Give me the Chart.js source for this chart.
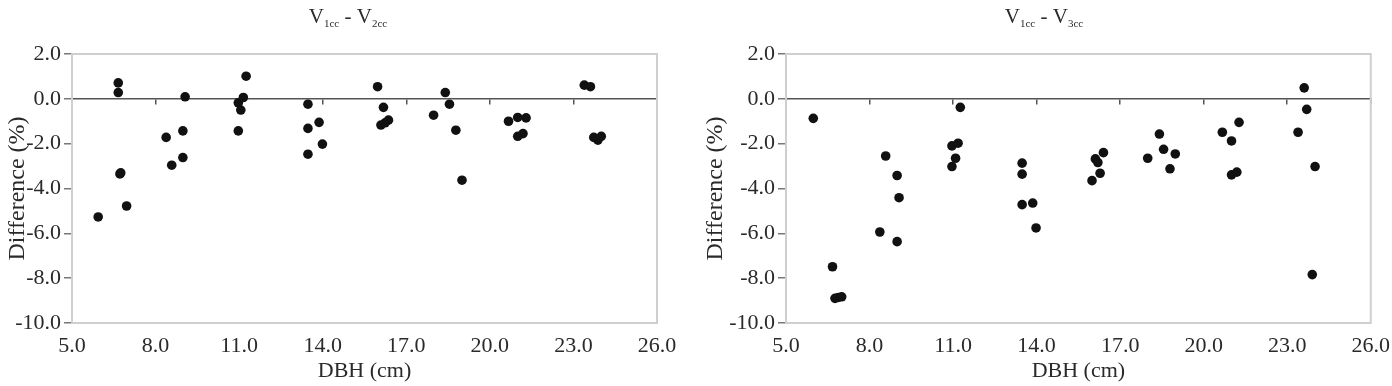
<!DOCTYPE html>
<html>
<head>
<meta charset="utf-8">
<script src="https://cdn.jsdelivr.net/npm/chart.js@4/dist/chart.umd.min.js"></script>
<style>
    body { margin: 0; background: #fff; }
    .wrap { display: flex; width: 1392px; height: 386px; }
    canvas { display: block; }
</style>
</head>
<body>
<div class="wrap">
    <canvas id="leftChart" width="696" height="386"></canvas>
    <canvas id="rightChart" width="696" height="386"></canvas>
</div>
<script>
// Axis ticks
const X_MIN = 5, X_MAX = 26, X_STEP = 3;
const Y_MIN = -10, Y_MAX = 2, Y_STEP = 2;

// V1cc - V2cc
const leftDbh = [5.94, 6.66, 6.66, 6.75, 6.72, 6.96, 8.38, 8.58, 8.98, 8.98, 9.06,
    10.97, 11.06, 10.97, 11.15, 11.25, 13.47, 13.47, 13.47, 13.87, 13.99,
    15.97, 16.18, 16.09, 16.24, 16.36, 17.98, 18.40, 18.55, 18.78, 19.00,
    20.67, 21.00, 21.30, 21.00, 21.19, 23.39, 23.61, 23.73, 23.88, 24.00];
const leftDiff = [-5.27, 0.71, 0.28, -3.30, -3.35, -4.78, -1.72, -2.96, -1.43, -2.62, 0.09,
    -0.18, -0.50, -1.43, 0.06, 1.01, -0.24, -1.32, -2.47, -1.05, -2.02,
    0.54, -0.38, -1.17, -1.07, -0.95, -0.73, 0.28, -0.24, -1.40, -3.63,
    -1.00, -0.83, -0.85, -1.67, -1.55, 0.61, 0.54, -1.72, -1.84, -1.67];

// V1cc - V3cc
const rightDbh = [5.98, 6.67, 6.76, 6.88, 7.00, 8.37, 8.58, 8.99, 9.06, 8.99,
    10.96, 11.18, 11.26, 11.09, 10.96, 13.48, 13.48, 13.48, 13.86, 13.98,
    15.99, 16.11, 16.20, 16.40, 16.28, 17.99, 18.41, 18.56, 18.98, 18.79,
    20.67, 21.00, 21.27, 21.00, 21.19, 23.39, 23.61, 23.70, 24.00, 23.90];
const rightDiff = [-0.87, -7.49, -8.90, -8.86, -8.83, -5.94, -2.55, -3.42, -4.41, -6.37,
    -2.10, -1.98, -0.38, -2.65, -3.02, -2.87, -3.36, -4.72, -4.65, -5.76,
    -3.65, -2.68, -2.84, -2.40, -3.32, -2.65, -1.57, -2.25, -2.46, -3.12,
    -1.49, -1.88, -1.05, -3.39, -3.27, -1.49, 0.49, -0.47, -3.02, -7.84];

const SERIF = '"Liberation Serif", "DejaVu Serif", serif';
const TEXT = '#2a2a2a';

// Title with subscripts: V<sub>1cc</sub> - V<sub>Ncc</sub>
function titlePlugin(sub2) {
    return {
        id: 'subTitle',
        afterDraw(chart) {
            const ctx = chart.ctx;
            const big = '21px ' + SERIF, small = '11px ' + SERIF;
            const parts = [['V', big, 0], ['1cc', small, 4], [' - V', big, 0], [sub2, small, 4]];
            let total = 0;
            parts.forEach(p => { ctx.font = p[1]; total += ctx.measureText(p[0]).width; });
            let x = chart.width / 2 - total / 2;
            ctx.save();
            ctx.fillStyle = TEXT;
            ctx.textBaseline = 'alphabetic';
            parts.forEach(p => {
                ctx.font = p[1];
                ctx.fillText(p[0], x, 23 + p[2]);
                x += ctx.measureText(p[0]).width;
            });
            ctx.restore();
        }
    };
}

// Light grey frame round the plot area
const framePlugin = {
    id: 'frame',
    beforeDatasetsDraw(chart) {
        const { ctx, chartArea: a } = chart;
        ctx.save();
        ctx.strokeStyle = '#cfcfcf';
        ctx.lineWidth = 2;
        ctx.strokeRect(a.left, a.top, a.right - a.left, a.bottom - a.top);
        ctx.restore();
    }
};

function makeChart(id, xs, ys, axisWidth, rightPad, titlePad, sub2) {
    const ctx = document.getElementById(id).getContext('2d');
    const points = xs.map((x, i) => ({ x: x, y: ys[i] }));

    new Chart(ctx, {
        type: 'scatter',
        data: {
            datasets: [{
                data: points,
                backgroundColor: '#111',
                borderColor: '#111',
                pointRadius: 4.8,
                pointBorderWidth: 0
            }]
        },
        options: {
            responsive: false,
            animation: false,
            layout: { padding: { top: 54, right: rightPad, left: 0, bottom: 0 } },
            plugins: {
                legend: { display: false },
                tooltip: { enabled: false }
            },
            scales: {
                x: {
                    type: 'linear',
                    position: 'bottom',
                    min: X_MIN, max: X_MAX,
                    ticks: {
                        stepSize: X_STEP,
                        callback: v => v.toFixed(1),
                        color: TEXT,
                        font: { family: SERIF, size: 22 },
                        padding: 2,
                        maxRotation: 0
                    },
                    grid: { display: false },
                    border: { display: false },
                    title: {
                        display: true, text: 'DBH (cm)', color: TEXT,
                        font: { family: SERIF, size: 22 },
                        padding: { bottom: 2 }
                    },
                    afterFit: s => { s.height = 63; }
                },
                xZero: {
                    type: 'linear',
                    axis: 'x',
                    position: { y: 0 },
                    min: X_MIN, max: X_MAX,
                    ticks: { display: false, stepSize: X_STEP },
                    grid: { drawOnChartArea: false, drawTicks: true, tickLength: 5, color: '#555', lineWidth: 1.5 },
                    border: { color: '#555', width: 1.5 }
                },
                y: {
                    min: Y_MIN, max: Y_MAX,
                    ticks: {
                        stepSize: Y_STEP,
                        callback: v => v.toFixed(1),
                        color: TEXT,
                        font: { family: SERIF, size: 22 },
                        padding: 3
                    },
                    grid: { drawOnChartArea: false, tickLength: 8, color: '#777', lineWidth: 1.5 },
                    border: { color: '#777', width: 1.5 },
                    title: {
                        display: true, text: 'Difference (%)', color: TEXT,
                        font: { family: SERIF, size: 24 },
                        padding: { top: titlePad }
                    },
                    afterFit: s => { s.width = axisWidth; }
                }
            }
        },
        plugins: [framePlugin, titlePlugin(sub2)]
    });
}

makeChart('leftChart', leftDbh, leftDiff, 72, 39, 3, '2cc');
makeChart('rightChart', rightDbh, rightDiff, 90, 20, 5, '3cc');
</script>
</body>
</html>
